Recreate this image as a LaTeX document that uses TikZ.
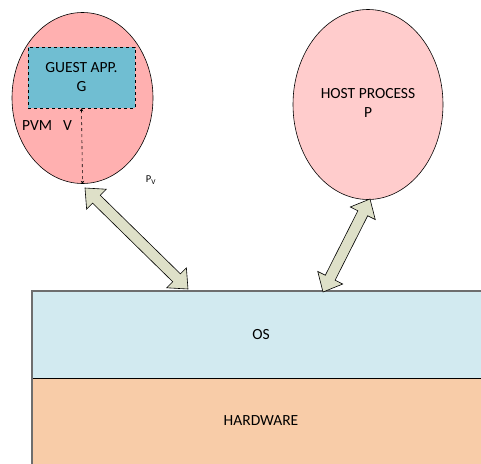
\documentclass[tikz,border=0pt]{standalone}
\usepackage{fontspec}
\setmainfont{Carlito}
\usetikzlibrary{shapes.geometric,calc,arrows.meta}
\definecolor{pvmfill}{RGB}{255,176,176}
\definecolor{hostfill}{RGB}{255,204,204}
\definecolor{guestfill}{RGB}{112,190,210}
\definecolor{osfill}{RGB}{210,234,240}
\definecolor{hwfill}{RGB}{248,204,168}
\definecolor{arrfill}{RGB}{222,224,200}
\definecolor{edgegray}{RGB}{110,110,110}
\newcommand\blockarrow[2]{%
  \filldraw[arrowstyle] (#1)
   -- ($(#1)!16pt!(#2)!14pt!90:(#2)$)
   -- ($(#1)!16pt!(#2)!5.5pt!90:(#2)$)
   -- ($(#2)!16pt!(#1)!5.5pt!-90:(#1)$)
   -- ($(#2)!16pt!(#1)!14pt!-90:(#1)$)
   -- (#2)
   -- ($(#2)!16pt!(#1)!14pt!90:(#1)$)
   -- ($(#2)!16pt!(#1)!5.5pt!90:(#1)$)
   -- ($(#1)!16pt!(#2)!5.5pt!-90:(#2)$)
   -- ($(#1)!16pt!(#2)!14pt!-90:(#2)$)
   -- cycle;}
\begin{document}
\begin{tikzpicture}[x=1pt,y=-1pt,
  lbl/.style={font=\fontsize{15.5}{19}\selectfont, align=center, inner sep=0pt},
  proc/.style={ellipse, draw=black, line width=0.6pt, inner sep=0pt},
  arrowstyle/.style={fill=arrfill, draw=black, line width=0.6pt, line join=miter}]
\useasboundingbox (0,0) rectangle (481,463);
% layers
\fill[osfill] (32,291) rectangle (490,378);
\fill[hwfill] (32,378) rectangle (490,470);
\node[lbl] (os) at (261,335) {OS};
\node[lbl] (hw) at (261,421) {HARDWARE};
\draw[black, line width=0.6pt] (32,378) -- (490,378);
\draw[edgegray, line width=1.3pt] (32,470) -- (32,291) -- (490,291);
% processes
\node[proc, fill=pvmfill, minimum width=141pt, minimum height=171pt] (pvm) at (82.5,98) {};
\node[proc, fill=hostfill, minimum width=150pt, minimum height=190pt] (host) at (368,104.5) {};
\node[lbl] (hosttxt) at (368,103) {HOST PROCESS\\P};
\node[draw=black, dashed, line width=0.6pt, fill=guestfill, minimum width=107pt, minimum height=61pt, inner sep=0pt] (guest) at (81.5,77.5) {};
\node[lbl] (guesttxt) at (81.5,77.5) {GUEST APP.\\G};
\node[lbl, anchor=west] (pvmtxt) at (22,126) {PVM\hspace{0.7em}V};
\node[inner sep=0pt, font=\fontsize{10.5}{11}\selectfont] (pv) at (151,180) {P\textsubscript{V}};
\draw[dashed, line width=0.6pt, {Stealth[length=3pt,width=3.5pt]}-{Stealth[length=3pt,width=3.5pt]}] (guest.south) -- (pvm.south);
% block arrows
\coordinate (a1s) at (85,188);
\coordinate (a1e) at (188,289);
\coordinate (a2s) at (370,199);
\coordinate (a2e) at (323,292);
\blockarrow{a1s}{a1e}
\blockarrow{a2s}{a2e}
\end{tikzpicture}
\end{document}
